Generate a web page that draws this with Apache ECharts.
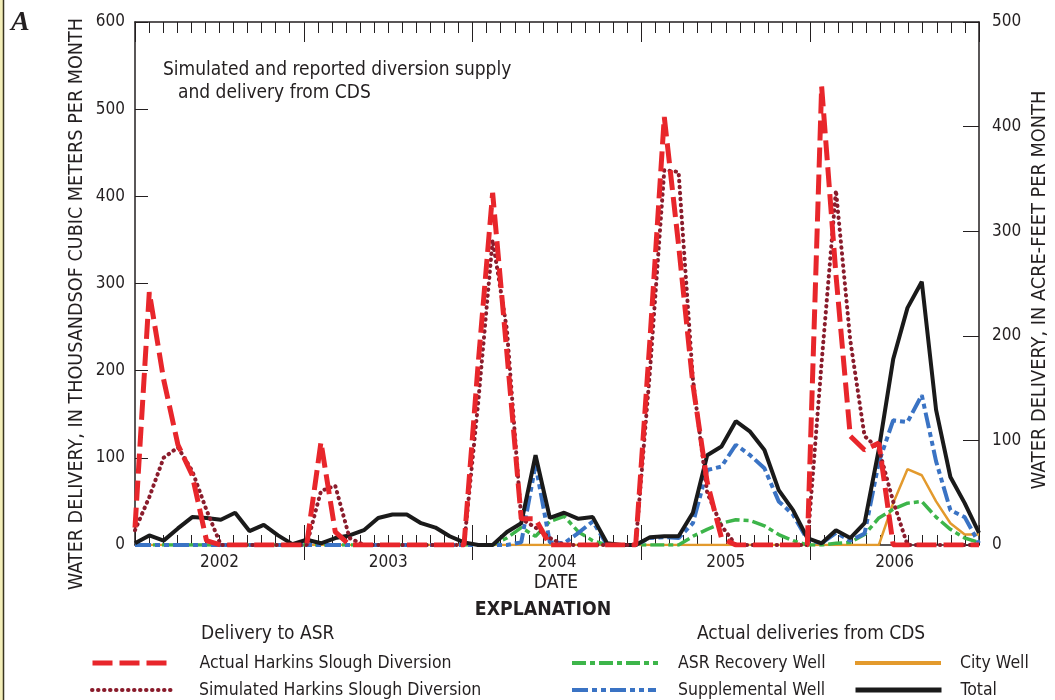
<!DOCTYPE html>
<html>
<head>
<meta charset="utf-8">
<script src="https://cdn.jsdelivr.net/npm/echarts@6/dist/echarts.min.js"></script>
<style>
  html, body { margin: 0; padding: 0; background: #fff; }
  #chart { width: 1055px; height: 700px; }
</style>
</head>
<body>
<div id="chart"></div>
<script>
// monthly values, Jan 2002 .. Dec 2006, thousands of cubic meters per month
const years = ['2002', '2003', '2004', '2005', '2006'];
const months = [];
years.forEach(y => { for (let m = 1; m <= 12; m++) months.push(y + '-' + m); });

const actualHarkins = [
  20, 290, 190, 115, 80, 5, 0, 0, 0, 0, 0, 0,
  0, 118, 15, 0, 0, 0, 0, 0, 0, 0, 0, 0,
  210, 404, 220, 30, 30, 0, 0, 0, 0, 0, 0, 0,
  236, 491, 344, 184, 72, 8, 0, 0, 0, 0, 0, 0,
  526, 310, 125, 109, 117, 0, 0, 0, 0, 0, 0, 0
];
const simulatedHarkins = [
  17, 55, 100, 112, 85, 40, 0, 0, 0, 0, 0, 0,
  0, 62, 68, 8, 0, 0, 0, 0, 0, 0, 0, 0,
  165, 350, 247, 30, 20, 8, 0, 0, 0, 0, 0, 0,
  200, 430, 428, 190, 60, 22, 0, 0, 0, 0, 0, 0,
  210, 407, 235, 125, 110, 50, 0, 0, 0, 0, 0, 0
];
const asrRecovery = [
  0, 0, 0, 0, 0, 0, 0, 0, 0, 0, 0, 0,
  0, 0, 0, 0, 0, 0, 0, 0, 0, 0, 0, 0,
  0, 0, 8, 20, 10, 27, 33, 15, 5, 0, 0, 0,
  0, 0, 0, 10, 18, 25, 29, 28, 22, 12, 5, 0,
  0, 2, 3, 12, 31, 41, 48, 50, 32, 18, 8, 3
];
const supplemental = [
  0, 0, 0, 0, 0, 0, 0, 0, 0, 0, 0, 0,
  0, 0, 0, 0, 0, 0, 0, 0, 0, 0, 0, 0,
  0, 0, 0, 3, 92, 3, 2, 14, 27, 0, 0, 0,
  8, 9, 8, 25, 86, 90, 115, 103, 88, 50, 35, 6,
  2, 14, 5, 13, 95, 143, 141, 172, 96, 40, 32, 2
];
const cityWell = [
  0, 0, 0, 0, 0, 0, 0, 0, 0, 0, 0, 0,
  0, 0, 0, 0, 0, 0, 0, 0, 0, 0, 0, 0,
  0, 0, 0, 0, 0, 0, 0, 0, 0, 0, 0, 0,
  0, 0, 0, 0, 0, 0, 0, 0, 0, 0, 0, 0,
  0, 0, 0, 0, 0, 48, 87, 80, 50, 25, 12, 12
];
const total = [
  2, 11, 5, 19, 32, 31, 29, 37, 16, 23, 11, 1,
  6, 2, 8, 11, 17, 31, 35, 35, 25, 20, 10, 3,
  0, 0, 15, 25, 103, 31, 37, 30, 32, 2, 0, 0,
  9, 10, 10, 37, 103, 113, 142, 130, 109, 63, 40, 8,
  2, 17, 8, 25, 110, 213, 272, 302, 155, 78, 48, 14
];
// year boundaries and year-label positions, in months from Jan 2002
const yearBounds = [12, 24, 36, 48];
const yearMids = [6, 18, 30, 42, 54];

const FONT = "'Liberation Sans Narrow', 'DejaVu Sans Condensed', sans-serif";
const INK = '#231f20';

const chart = echarts.init(document.getElementById('chart'));

// one legend per item so each can sit where the report puts it
function legendItem(name, left, top, width, pad, lw) {
  return {
    data: [name],
    left: left,
    top: top,
    padding: 0,
    itemWidth: width,
    itemHeight: 14,
    selectedMode: false,
    itemStyle: { opacity: 0, borderWidth: 0 },
    lineStyle: { width: lw },
    textStyle: { fontFamily: FONT, fontSize: 17.5, color: INK, padding: [0, 0, 0, pad] }
  };
}

const option = {
  backgroundColor: '#fff',
  animation: false,
  grid: { left: 135, right: 76, top: 22, bottom: 155, containLabel: false },
  xAxis: [
    // data axis: 60 months spread over the full width
    { type: 'category', data: months, boundaryGap: false, show: false },
    // month ticks, bottom
    {
      type: 'value', min: 0, max: 60, interval: 12, position: 'bottom',
      axisLine: { show: true, onZero: false, lineStyle: { color: INK, width: 1.5 } },
      axisTick: { show: true, inside: true, length: 20, lineStyle: { color: INK, width: 1 } },
      minorTick: { show: true, splitNumber: 12, length: 10, lineStyle: { color: INK, width: 1 } },
      axisLabel: { show: false }, splitLine: { show: false }
    },
    // year labels, outward ticks at year boundaries
    {
      type: 'value', min: 0, max: 60, interval: 6, position: 'bottom',
      axisLine: { show: false, onZero: false },
      axisTick: { show: true, inside: false, length: 15, customValues: yearBounds,
        lineStyle: { color: INK, width: 1 } },
      axisLabel: { show: true, margin: 9, customValues: yearMids, fontFamily: FONT, fontSize: 17, color: INK,
        formatter: function (v) { return years[Math.round((v - 6) / 12)]; } },
      splitLine: { show: false }
    },
    // month ticks, top
    {
      type: 'value', min: 0, max: 60, interval: 12, position: 'top',
      axisLine: { show: true, onZero: false, lineStyle: { color: INK, width: 1.5 } },
      axisTick: { show: true, inside: true, length: 20, lineStyle: { color: INK, width: 1 } },
      minorTick: { show: true, splitNumber: 12, length: 11, lineStyle: { color: INK, width: 1 } },
      axisLabel: { show: false }, splitLine: { show: false }
    }
  ],
  yAxis: [
    {
      type: 'value', min: 0, max: 600, interval: 100, position: 'left',
      axisLine: { show: true, onZero: false, lineStyle: { color: INK, width: 1.5 } },
      axisTick: { show: true, inside: true, length: 13, lineStyle: { color: INK, width: 1 } },
      axisLabel: { margin: 10, fontFamily: FONT, fontSize: 17, color: INK },
      splitLine: { show: false }
    },
    {
      type: 'value', min: 0, max: 500, interval: 100, position: 'right',
      axisLine: { show: true, onZero: false, lineStyle: { color: INK, width: 1.5 } },
      axisTick: { show: true, inside: true, length: 16, lineStyle: { color: INK, width: 1 } },
      axisLabel: { margin: 13, fontFamily: FONT, fontSize: 17, color: INK },
      splitLine: { show: false }
    }
  ],
  legend: [
    legendItem('Actual Harkins Slough Diversion', 90, 654, 80, 22, 5),
    legendItem('Simulated Harkins Slough Diversion', 90, 681, 82, 20, 4),
    legendItem('ASR Recovery Well', 570, 654, 86, 15, 4),
    legendItem('Supplemental Well', 570, 681, 84, 17, 4),
    legendItem('City Well', 853, 654, 86, 14, 4),
    legendItem('Total', 853, 681, 86, 14, 5)
  ],
  graphic: [
    { type: 'rect', shape: { x: 0, y: 0, width: 3, height: 700 }, style: { fill: '#f3eeb8' } },
    { type: 'line', shape: { x1: 3.5, y1: 0, x2: 3.5, y2: 700 }, style: { stroke: '#3a3520', lineWidth: 1.5 } },
    { type: 'text', x: 11, y: 9, style: { text: 'A', font: "italic bold 28px 'Liberation Serif', 'DejaVu Serif', serif", fill: INK } },
    { type: 'text', x: 163, y: 70, style: { text: 'Simulated and reported diversion supply', font: '19px ' + FONT, fill: INK, verticalAlign: 'middle' } },
    { type: 'text', x: 178, y: 93, style: { text: 'and delivery from CDS', font: '19px ' + FONT, fill: INK, verticalAlign: 'middle' } },
    { type: 'text', x: 77, y: 304, rotation: Math.PI / 2,
      style: { text: 'WATER DELIVERY, IN THOUSANDSOF CUBIC METERS PER MONTH', font: '19.6px ' + FONT, fill: INK, align: 'center', verticalAlign: 'middle' } },
    { type: 'text', x: 1040, y: 290, rotation: Math.PI / 2,
      style: { text: 'WATER DELIVERY, IN ACRE-FEET PER MONTH', font: '19.8px ' + FONT, fill: INK, align: 'center', verticalAlign: 'middle' } },
    { type: 'text', x: 556, y: 583, style: { text: 'DATE', font: '19px ' + FONT, fill: INK, align: 'center', verticalAlign: 'middle' } },
    { type: 'text', x: 543, y: 610, style: { text: 'EXPLANATION', font: 'bold 19.3px ' + FONT, fill: INK, align: 'center', verticalAlign: 'middle' } },
    { type: 'text', x: 201, y: 634, style: { text: 'Delivery to ASR', font: '19px ' + FONT, fill: INK, verticalAlign: 'middle' } },
    { type: 'text', x: 697, y: 634, style: { text: 'Actual deliveries from CDS', font: '19px ' + FONT, fill: INK, verticalAlign: 'middle' } }
  ],
  series: [
    {
      name: 'City Well', type: 'line', data: cityWell, symbol: 'none', z: 2,
      lineStyle: { color: '#e39a2d', width: 2.5 }, itemStyle: { color: '#e39a2d' }
    },
    {
      name: 'ASR Recovery Well', type: 'line', data: asrRecovery, symbol: 'none', z: 3,
      lineStyle: { color: '#3db54a', width: 3.5, type: [14, 4, 5, 4] }, itemStyle: { color: '#3db54a' }
    },
    {
      name: 'Supplemental Well', type: 'line', data: supplemental, symbol: 'none', z: 4,
      lineStyle: { color: '#3a73c4', width: 4, type: [16, 4, 5, 4, 5, 4] }, itemStyle: { color: '#3a73c4' }
    },
    {
      name: 'Total', type: 'line', data: total, symbol: 'none', z: 5,
      lineStyle: { color: '#1a1a1a', width: 4 }, itemStyle: { color: '#1a1a1a' }
    },
    {
      name: 'Simulated Harkins Slough Diversion', type: 'line', data: simulatedHarkins, symbol: 'none', z: 6,
      lineStyle: { color: '#8a1c2c', width: 4, type: [0.5, 5.5], cap: 'round' }, itemStyle: { color: '#8a1c2c' }
    },
    {
      name: 'Actual Harkins Slough Diversion', type: 'line', data: actualHarkins, symbol: 'none', z: 7,
      lineStyle: { color: '#e8262b', width: 5, type: [20, 7] }, itemStyle: { color: '#e8262b' }
    }
  ]
};

chart.setOption(option);
</script>
</body>
</html>
